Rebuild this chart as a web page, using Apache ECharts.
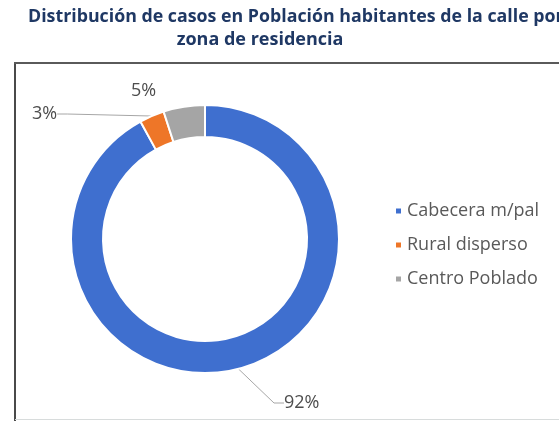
<!DOCTYPE html>
<html><head><meta charset="utf-8">
<script src="https://cdn.jsdelivr.net/npm/echarts@6/dist/echarts.min.js"></script>
<style>html,body{margin:0;padding:0;background:#fff}#c{width:559px;height:421px}</style>
</head><body><div id="c"></div>
<script>
const categories = ['Cabecera m/pal', 'Rural disperso', 'Centro Poblado'];
const values = [92, 3, 5];
const colors = ['#3F6FCF', '#EE7628', '#A5A5A5'];
const titleLine1 = 'Distribución de casos en Población habitantes de la calle por';
const titleLine2 = 'zona de residencia';

const chart = echarts.init(document.getElementById('c'), null, {renderer: 'canvas'});
const labelPos = [
  {x: 284, y: 403, align: 'left'},
  {x: 32, y: 114, align: 'left'},
  {x: 131, y: 91, align: 'left'}
];
chart.setOption({
  animation: false,
  graphic: [
    {type: 'line', shape: {x1: 15, y1: 63, x2: 15, y2: 421}, style: {stroke: '#4a4a4a', lineWidth: 2}},
    {type: 'line', shape: {x1: 14, y1: 63, x2: 559, y2: 63}, style: {stroke: '#5a5a5a', lineWidth: 2}},
    {type: 'line', shape: {x1: 15, y1: 419.5, x2: 559, y2: 419.5}, style: {stroke: '#d8dcdc', lineWidth: 1}},
    {type: 'text', x: 28, y: 8, style: {text: titleLine1, fill: '#1F3864', font: 'bold 17.8px "Open Sans"'}},
    {type: 'text', x: 260, y: 31, style: {text: titleLine2, fill: '#1F3864', font: 'bold 18px "Open Sans"', textAlign: 'center'}}
  ],
  legend: {
    orient: 'vertical',
    left: 389,
    top: 197,
    icon: 'rect',
    itemWidth: 7,
    itemHeight: 7,
    itemGap: 16,
    data: categories,
    textStyle: {color: '#595959', fontSize: 18, fontFamily: 'Open Sans', padding: [0, 0, 0, 0]}
  },
  series: [{
    type: 'pie',
    center: [205, 239],
    radius: [102, 134],
    startAngle: 90,
    clockwise: true,
    avoidLabelOverlap: false,
    itemStyle: {borderColor: '#fff', borderWidth: 2},
    label: {
      show: true,
      position: 'outside',
      formatter: '{d}%',
      color: '#4d4d4d',
      fontSize: 18,
      fontFamily: 'Open Sans'
    },
    labelLine: {show: true, length: 20, length2: 10, lineStyle: {color: '#a6a6a6', width: 1}},
    labelLayout: function (p) {
      const lp = labelPos[p.dataIndex];
      return {x: lp.x, y: lp.y, align: lp.align, verticalAlign: 'middle'};
    },
    data: categories.map((n, i) => ({
      name: n,
      value: values[i],
      itemStyle: {color: colors[i]},
      labelLine: {show: i !== 2}
    }))
  }]
});
</script></body></html>
